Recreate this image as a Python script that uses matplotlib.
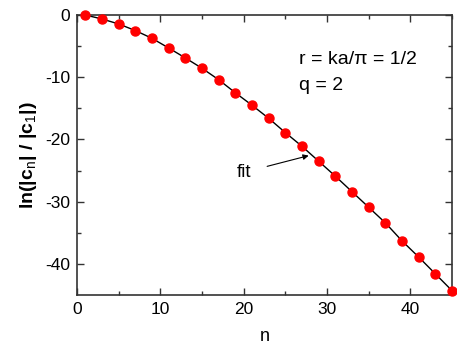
import matplotlib.pyplot as plt
import numpy as np

plt.rcParams['font.family'] = ['Liberation Sans', 'DejaVu Sans']
plt.rcParams['axes.unicode_minus'] = False
plt.rcParams['mathtext.fontset'] = 'custom'
plt.rcParams['mathtext.rm'] = 'Liberation Sans'
plt.rcParams['mathtext.bf'] = 'Liberation Sans:bold'

# odd harmonics n and ln(|c_n|/|c_1|)
n = [1, 3, 5, 7, 9, 11, 13, 15, 17, 19, 21, 23,
     25, 27, 29, 31, 33, 35, 37, 39, 41, 43, 45]
lnc = [0.0, -0.64, -1.44, -2.5, -3.75, -5.3, -6.9, -8.56, -10.4, -12.5, -14.5, -16.6,
       -18.9, -21.1, -23.5, -25.9, -28.4, -30.9, -33.4, -36.3, -38.9, -41.6, -44.3]

fig = plt.figure(figsize=(4.57, 3.49), dpi=100)
ax = fig.add_axes([77 / 457, 1 - 295 / 349, 375 / 457, 280 / 349])

ax.plot(n, lnc, color='black', lw=1.0, zorder=2)
ax.plot(n, lnc, 'o', color='#ff0000', ms=6.5, mec='#ff0000', zorder=3, clip_on=False)

ax.set_xlim(0, 45)
ax.set_ylim(-45, 0)
ax.set_xticks([0, 10, 20, 30, 40])
ax.set_xticks([5, 15, 25, 35, 45], minor=True)
ax.set_yticks([0, -10, -20, -30, -40])
ax.set_yticks([-5, -15, -25, -35], minor=True)
ax.tick_params(which='both', direction='in', top=True, right=True,
               labelsize=12.5, color='#333333', width=1)
ax.tick_params(which='major', length=5, pad=5)
ax.tick_params(which='minor', length=3)
for s in ax.spines.values():
    s.set_color('#333333')
    s.set_linewidth(1.2)

ax.set_xlabel('n', fontsize=13, labelpad=8)
ax.set_ylabel(r'ln(|c$_\mathrm{n}$| / |c$_\mathrm{1}$|)', fontsize=14,
              fontweight='bold', labelpad=4)

ax.text(26.6, -7.8, 'r = ka/\u03c0 = 1/2', fontsize=14)
ax.text(26.6, -12.1, 'q = 2', fontsize=14)

ax.annotate('fit', xy=(27.8, -22.6), xytext=(20.0, -25.3), fontsize=13.5,
            ha='center', va='center',
            arrowprops=dict(arrowstyle='-|>', color='black', lw=0.8,
                            mutation_scale=8, shrinkA=10, shrinkB=0))

fig.savefig('out.png', dpi=100)
